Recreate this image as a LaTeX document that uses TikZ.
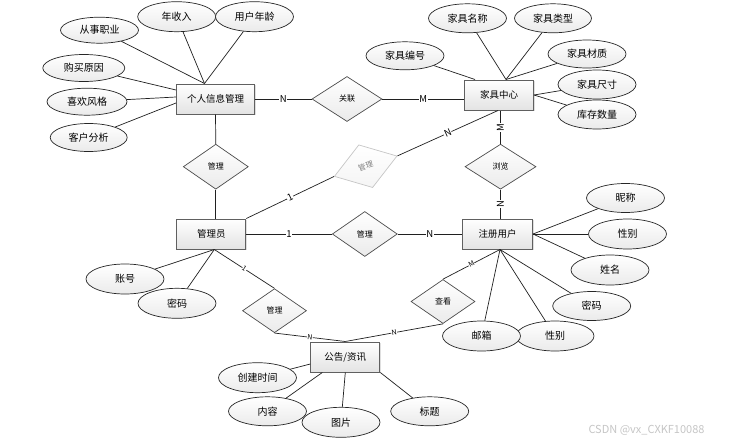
\documentclass[tikz,border=0pt]{standalone}
\usepackage{fontspec}
\setmainfont{Noto Sans CJK SC}
\usetikzlibrary{shapes.geometric,shadows}
\begin{document}
\begin{tikzpicture}[x=1pt,y=-1pt,
  ent/.style={rectangle, draw=gray!75!black, line width=1pt, top color=white, bottom color=gray!22,
    minimum height=30pt, inner sep=0pt, font=\fontsize{9.5}{10}\selectfont,
    drop shadow={shadow xshift=1.2pt, shadow yshift=-1.2pt, opacity=0.25}},
  attr/.style={ellipse, draw=gray!30!black, line width=0.7pt, top color=white, bottom color=gray!16,
    minimum width=78pt, minimum height=29pt, inner sep=0pt, font=\fontsize{10}{11}\selectfont},
  rel/.style={diamond, draw=gray!60!black, line width=0.7pt, top color=white, bottom color=gray!16,
    inner sep=0pt, minimum width=65pt, minimum height=45pt, font=\fontsize{8}{9}\selectfont},
  conn/.style={draw=gray!25!black, line width=0.7pt},
  lab/.style={fill=white, inner sep=0.6pt, font=\fontsize{9.5}{10}\selectfont},
  slab/.style={fill=white, inner sep=0.3pt, font=\fontsize{7}{8}\selectfont, sloped}
]
\fill[white] (0,0) rectangle (729,442);
\useasboundingbox (0,0) rectangle (729,442);

% entities
\node[ent, minimum width=78pt] (pim) at (215.5,99) {个人信息管理};
\node[ent, minimum width=69pt] (fc) at (499,95) {家具中心};
\node[ent, minimum width=69pt] (mgr) at (211.3,234) {管理员};
\node[ent, minimum width=70pt] (usr) at (497.5,234) {注册用户};
\node[ent, minimum width=69pt] (news) at (345.3,357) {公告/资讯};

% relationships
\node[rel, minimum width=70pt] (rel) at (347,99) {关联};
\node[rel] (d1) at (215.8,166.7) {管理};
\node[rel] (d2) at (364.8,234) {管理};
\node[rel, minimum width=71pt] (d3) at (500.5,166.7) {浏览};
\node[rel, rotate=18, minimum width=66pt, draw=gray!45, text=gray, top color=white, bottom color=gray!8, font=\fontsize{7.5}{8}\selectfont] (d4) at (365.7,166.2) {管理};
\node[rel, minimum width=64pt, minimum height=44pt] (d5) at (274.5,310.7) {管理};
\node[rel, minimum width=64pt, minimum height=44pt] (d6) at (443,301.5) {查看};

% attributes of 个人信息管理
\node[attr, minimum height=26pt] (a1) at (99.5,30.2) {从事职业};
\node[attr, minimum height=30pt] (a2) at (176.7,16.7) {年收入};
\node[attr, minimum height=30pt] (a3) at (254.5,16.7) {用户年龄};
\node[attr, minimum width=82pt, minimum height=27pt] (a4) at (83.8,68) {购买原因};
\node[attr, minimum width=80pt, minimum height=27pt] (a5) at (87,101.7) {喜欢风格};
\node[attr, minimum width=77pt, minimum height=28pt] (a6) at (88.7,137.5) {客户分析};

% attributes of 家具中心
\node[attr, minimum height=28pt] (b1) at (405,55.8) {家具编号};
\node[attr] (b2) at (467.5,18.3) {家具名称};
\node[attr, minimum width=77pt] (b3) at (553,18.3) {家具类型};
\node[attr, minimum height=28pt] (b4) at (587,54) {家具材质};
\node[attr] (b5) at (597,84.5) {家具尺寸};
\node[attr] (b6) at (597,114.5) {库存数量};

% attributes of 注册用户
\node[attr] (c1) at (625.5,198) {昵称};
\node[attr, minimum height=30pt] (c2) at (627.5,234) {性别};
\node[attr, minimum height=30pt] (c3) at (610,270) {姓名};
\node[attr] (c4) at (591.7,306) {密码};
\node[attr, minimum height=30pt] (c6) at (555,336) {性别};
\node[attr, minimum height=30pt] (c5) at (481.5,336) {邮箱};

% attributes of 管理员
\node[attr, minimum height=30pt] (e1) at (125,279) {账号};
\node[attr, minimum height=30pt] (e2) at (177,303.3) {密码};

% attributes of 公告/资讯
\node[attr, minimum height=30pt] (f1) at (257.5,377.7) {创建时间};
\node[attr] (f2) at (267.5,411.3) {内容};
\node[attr, minimum height=30pt] (f3) at (341,422.3) {图片};
\node[attr] (f4) at (429.7,411.3) {标题};

% anchor points
\coordinate (pimt) at ([xshift=-11pt]pim.north);
\coordinate (fct) at ([xshift=7pt]fc.north);
\coordinate (mgrb) at ([xshift=3pt]mgr.south);
\coordinate (usrb) at ([xshift=2.5pt]usr.south);

% attribute connectors
\draw[conn] (a1) -- (pimt);
\draw[conn] (a2) -- (pimt);
\draw[conn] (a3) -- (pimt);
\draw[conn] (a4) -- ([yshift=9pt]pim.west);
\draw[conn] (a5) -- ([yshift=2pt]pim.west);
\draw[conn] (a6) -- ([yshift=-4pt]pim.west);

\draw[conn] (b1) -- ([xshift=-24pt]fc.north);
\draw[conn] (b2) -- (fct);
\draw[conn] (b3) -- (fct);
\draw[conn] (b4) -- (fct);
\draw[conn] (b5) -- (fc.east);
\draw[conn] (b6) -- (fc.east);

\draw[conn] (c1) -- (usr.east);
\draw[conn] (c2) -- (usr.east);
\draw[conn] (c3) -- (usr.east);
\draw[conn] (c4) -- (usrb);
\draw[conn] (c5) -- (usrb);
\draw[conn] (c6) -- (usrb);

\draw[conn] (e1) -- (mgrb);
\draw[conn] (e2) -- (mgrb);

\draw[conn] (f1) -- ([yshift=-7pt]news.west);
\draw[conn] (f2) -- ([xshift=-23pt]news.south);
\draw[conn] (f3) -- (news.south);
\draw[conn] (f4) -- (news.south east);

% relationship connectors
\draw[conn] (pim.east) -- node[lab]{N} (rel.west);
\draw[conn] (rel.east) -- node[lab]{M} (rel.east -| fc.west);
\draw[conn] (d3.north |- fc.south) -- node[lab, rotate=90]{M} (d3.north);
\draw[conn] (d3.south) -- node[lab, rotate=90]{N} (d3.south |- usr.north);
\draw[conn] (mgr.north east) -- node[lab, sloped]{1} (d4.west);
\draw[conn] (d4.east) -- node[lab, sloped]{N} ([xshift=-1pt]fc.south);
\draw[conn] (pim.south) -- (d1.north);
\draw[conn] (d1.south) -- (d1.south |- mgr.north);
\draw[conn] (mgr.east) -- node[lab]{1} (d2.west);
\draw[conn] (d2.east) -- node[lab]{N} (usr.west);
\draw[conn] (mgrb) -- node[slab]{1} (d5.north);
\draw[conn] (d5.south) -- node[slab]{N} (news.north);
\draw[conn] (d6.south) -- node[slab]{N} (news.north);
\draw[conn] (d6.north) -- node[slab]{M} (usrb);

% watermark
\node[text=gray!45, font=\fontsize{11}{12}\selectfont, inner sep=0pt] (wm) at (646.5,430) {CSDN @vx\_CXKF10088};
\end{tikzpicture}
\end{document}
